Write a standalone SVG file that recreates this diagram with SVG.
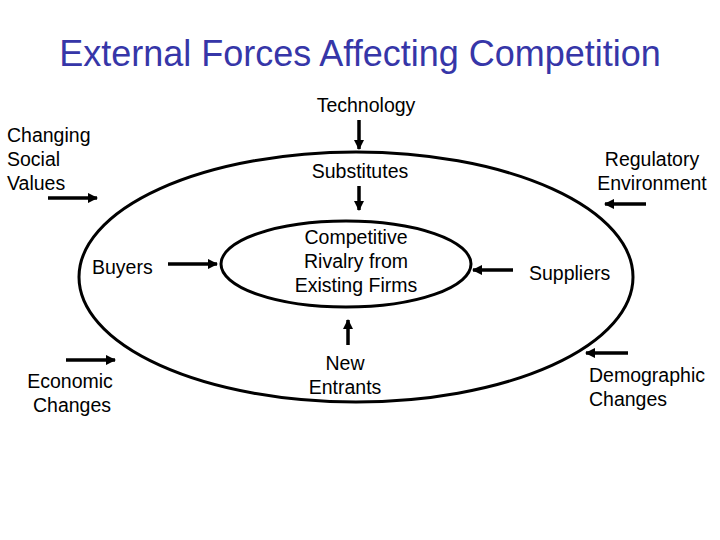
<svg xmlns="http://www.w3.org/2000/svg" width="720" height="540" viewBox="0 0 720 540">
<defs>
<style>
text{font-family:"Liberation Sans",Arial,sans-serif;font-size:19.5px;fill:#000}
.title{font-size:36px;fill:#3636a8}
.mid{text-anchor:middle}
.ring{fill:none;stroke:#000;stroke-width:3}
.arr{fill:none;stroke:#000;stroke-width:3.5;marker-end:url(#ah)}
</style>
<marker id="ah" viewBox="0 0 10 10" refX="9" refY="5" markerWidth="3" markerHeight="3" orient="auto" markerUnits="strokeWidth">
<path d="M0,0 L10,5 L0,10 z" fill="#000"/>
</marker>
</defs>
<rect width="720" height="540" fill="#fff"/>
<text class="title mid" x="360" y="66">External Forces Affecting Competition</text>
<g id="outer-ring"><ellipse class="ring" cx="356" cy="277" rx="277" ry="125"/></g>
<g id="technology"><text class="mid" x="366" y="112">Technology</text></g>
<g id="social"><text x="7" y="142">Changing</text><text x="7" y="166">Social</text><text x="7" y="190">Values</text></g>
<g id="regulatory"><text class="mid" x="652" y="166">Regulatory</text><text class="mid" x="652" y="190">Environment</text></g>
<g id="substitutes"><text class="mid" x="360" y="178">Substitutes</text></g>
<g id="buyers"><text x="92" y="274">Buyers</text></g>
<g id="rivalry"><ellipse class="ring" cx="346" cy="264" rx="125" ry="43"/><text class="mid" x="356" y="244">Competitive</text><text class="mid" x="356" y="268">Rivalry from</text><text class="mid" x="356" y="292">Existing Firms</text></g>
<g id="suppliers"><text x="529" y="280">Suppliers</text></g>
<g id="economic"><text class="mid" x="70" y="388">Economic</text><text class="mid" x="72" y="412">Changes</text></g>
<g id="entrants"><text class="mid" x="345" y="370">New</text><text class="mid" x="345" y="394">Entrants</text></g>
<g id="demographic"><text x="589" y="382">Demographic</text><text x="589" y="406">Changes</text></g>
<g id="connectors">
<line class="arr" x1="359" y1="120" x2="359" y2="149"/>
<line class="arr" x1="359" y1="186" x2="359" y2="210"/>
<line class="arr" x1="348" y1="345" x2="348" y2="320"/>
<line class="arr" x1="168" y1="264" x2="217" y2="264"/>
<line class="arr" x1="513" y1="270" x2="473" y2="270"/>
<line class="arr" x1="48" y1="198" x2="97" y2="198"/>
<line class="arr" x1="66" y1="360" x2="115" y2="360"/>
<line class="arr" x1="646" y1="204" x2="605" y2="204"/>
<line class="arr" x1="628" y1="353" x2="586" y2="353"/>
</g>
</svg>
